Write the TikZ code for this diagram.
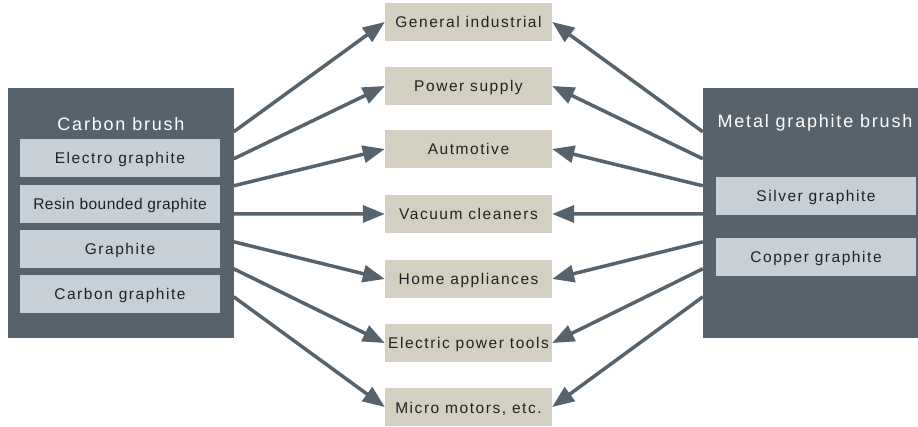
\documentclass[tikz,border=0pt]{standalone}
\usepackage{fontspec}
\setmainfont{Liberation Sans}
\newfontfamily\labelfont[LetterSpace=10]{Liberation Sans}
\newfontfamily\tightfont[LetterSpace=3]{Liberation Sans}
\usetikzlibrary{arrows.meta}

\definecolor{slate}{RGB}{86,99,109}
\definecolor{paleslate}{RGB}{199,207,215}
\definecolor{sand}{RGB}{211,208,194}
\definecolor{ink}{RGB}{34,34,34}

\tikzset{
  brush/.style={fill=slate, inner sep=0pt, minimum height=250pt},
  brushtitle/.style={text=white, font=\labelfont\fontsize{18}{21}\selectfont},
  grade/.style={fill=paleslate, text=ink, inner sep=0pt, minimum width=200pt,
    minimum height=38pt, text height=14pt, text depth=2pt,
    font=\labelfont\fontsize{15.5}{18}\selectfont},
  usebox/.style={fill=sand, text=ink, inner sep=0pt, minimum width=167pt,
    minimum height=38pt, text height=14pt, text depth=2pt,
    font=\labelfont\fontsize{15.5}{18}\selectfont},
  flow/.style={draw=slate, line width=3.5pt, -{Triangle[length=22pt,width=17pt]}}
}

\begin{document}
\begin{tikzpicture}[x=1pt, y=-1pt]
    \useasboundingbox (0,0) rectangle (918,427);

    % Carbon brush
    \node[brush, minimum width=226pt] (carbon) at (120.5,213) {};
    \node[brushtitle] (carbontitle) at (121,124) {Carbon brush};
    \node[grade] (electro) at (120,158) {Electro graphite};
    \node[grade, font=\tightfont\fontsize{15.5}{18}\selectfont] (resin) at (120,204) {Resin bounded graphite};
    \node[grade] (graphite) at (120,249) {Graphite};
    \node[grade] (cgraphite) at (120,294) {Carbon graphite};

    % Metal graphite brush
    \node[brush, minimum width=215pt] (metal) at (810.5,213) {};
    \node[brushtitle] (metaltitle) at (815,123) {Metal graphite brush};
    \node[grade] (silver) at (816,196) {Silver graphite};
    \node[grade] (copper) at (816,257) {Copper graphite};

    % Applications
    \node[usebox] (use1) at (468.5,22) {General industrial};
    \node[usebox] (use2) at (468.5,86) {Power supply};
    \node[usebox] (use3) at (468.5,149) {Autmotive};
    \node[usebox] (use4) at (468.5,214) {Vacuum cleaners};
    \node[usebox] (use5) at (468.5,279) {Home appliances};
    \node[usebox] (use6) at (468.5,343) {Electric power tools};
    \node[usebox] (use7) at (468.5,407) {Micro motors, etc.};

    % Arrows
    \foreach \i/\dy in {1/44,2/71,3/98,4/126,5/154,6/181,7/209} {
        \coordinate (cl\i) at ([yshift=-\dy pt]carbon.north east);
        \coordinate (mr\i) at ([yshift=-\dy pt]metal.north west);
        \draw[flow] (cl\i) -- (use\i.west);
        \draw[flow] (mr\i) -- (use\i.east);
    }
\end{tikzpicture}
\end{document}
